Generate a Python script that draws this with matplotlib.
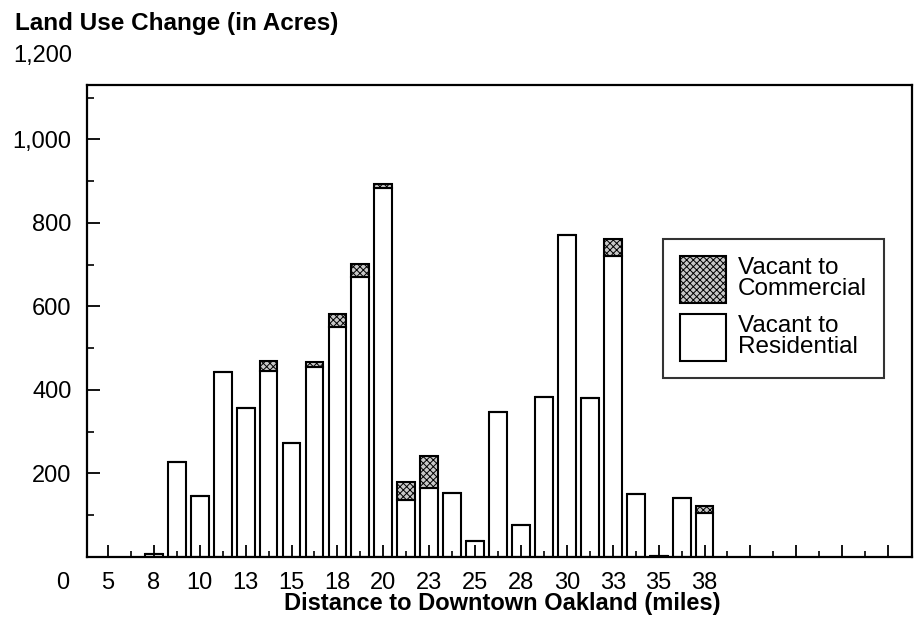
import matplotlib
matplotlib.use("Agg")
import matplotlib.pyplot as plt
from matplotlib.patches import Patch
from matplotlib.ticker import FixedLocator, FixedFormatter

plt.rcParams['font.family'] = ['Liberation Sans', 'DejaVu Sans']
plt.rcParams['hatch.linewidth'] = 0.7

# distance bins (miles) and acreage converted from vacant land
miles = [7.5, 8.75, 10, 11.25, 12.5, 13.75, 15, 16.25, 17.5, 18.75, 20, 21.25, 22.5,
         23.75, 25, 26.25, 27.5, 28.75, 30, 31.25, 32.5, 33.75, 35, 36.25, 37.5]
residential = [8, 228, 145, 443, 357, 445, 273, 455, 550, 670, 884, 137, 165,
               153, 38, 348, 77, 384, 772, 380, 720, 151, 2, 141, 105]
commercial = [0, 0, 0, 0, 0, 24, 0, 12, 32, 32, 10, 43, 77,
              0, 0, 0, 0, 0, 0, 0, 42, 0, 0, 0, 17]

tick_pos = [5, 7.5, 10, 12.5, 15, 17.5, 20, 22.5, 25, 27.5, 30, 32.5, 35, 37.5]
tick_lbl = ['5', '8', '10', '13', '15', '18', '20', '23', '25', '28', '30', '33', '35', '38']
extra_major = [40, 42.5, 45, 47.5]
minor_pos = [6.25, 8.75, 11.25, 13.75, 16.25, 18.75, 21.25, 23.75, 26.25, 28.75,
             31.25, 33.75, 36.25, 38.75, 41.25, 43.75, 46.25]

y_major = [200, 400, 600, 800, 1000]
y_labels = ['200', '400', '600', '800', '1,000']
y_minor = [100, 300, 500, 700, 900, 1100]

fig = plt.figure(figsize=(9.14, 6.29), dpi=100)
ax = fig.add_axes([0.0952, 0.1145, 0.9026, 0.7504])

w = 0.97
ax.bar(miles, residential, width=w, color='white', edgecolor='black', linewidth=1.5)
ax.bar(miles, commercial, width=w, bottom=residential, color='#c8c8c8',
       edgecolor='black', linewidth=1.5, hatch='xxxxx')

ax.set_xlim(3.86, 48.8)
ax.set_ylim(0, 1130)

ax.xaxis.set_major_locator(FixedLocator(tick_pos + extra_major))
ax.xaxis.set_major_formatter(FixedFormatter(tick_lbl + [''] * len(extra_major)))
ax.xaxis.set_minor_locator(FixedLocator(minor_pos))
ax.yaxis.set_major_locator(FixedLocator(y_major))
ax.yaxis.set_major_formatter(FixedFormatter(y_labels))
ax.yaxis.set_minor_locator(FixedLocator(y_minor))

ax.tick_params(axis='x', which='major', direction='in', length=8.5, width=1.3,
               labelsize=17, pad=11, top=False)
ax.tick_params(axis='x', which='minor', direction='in', length=4.5, width=1.2, top=False)
ax.tick_params(axis='y', which='major', direction='in', length=9.5, width=1.3,
               labelsize=17, pad=11, right=False)
ax.tick_params(axis='y', which='minor', direction='in', length=5, width=1.2, right=False)

for s in ax.spines.values():
    s.set_linewidth(1.6)

# top value label sits above the frame, and the origin label sits left of it
ax.text(-0.018, 1200, '1,200', transform=ax.get_yaxis_transform(), ha='right',
        va='center', fontsize=17, clip_on=False)
ax.annotate('0', xy=(0, 0), xycoords='axes fraction', xytext=(-17.5, -10.8),
            textcoords='offset points', ha='center', va='top', fontsize=17)

fig.text(0.0164, 0.963, 'Land Use Change (in Acres)', ha='left', va='center',
         fontsize=17.5, fontweight='bold')
fig.text(0.55, 0.040, 'Distance to Downtown Oakland (miles)', ha='center', va='center',
         fontsize=17, fontweight='bold')

handles = [Patch(facecolor='#c8c8c8', edgecolor='black', hatch='xxxxx', linewidth=1.5),
           Patch(facecolor='white', edgecolor='black', linewidth=1.5)]
leg = ax.legend(handles, ['Vacant to\nCommercial', 'Vacant to\nResidential'],
                loc='upper left', bbox_to_anchor=(0.698, 0.674), fontsize=17.5,
                frameon=True, fancybox=False, borderaxespad=0, handlelength=1.9,
                handleheight=2.6, handletextpad=0.5, labelspacing=0.45,
                borderpad=0.7)
leg.get_frame().set_edgecolor('black')
leg.get_frame().set_linewidth(1.5)
for t in leg.get_texts():
    t.set_linespacing(0.95)

fig.savefig('out.png', dpi=100)
